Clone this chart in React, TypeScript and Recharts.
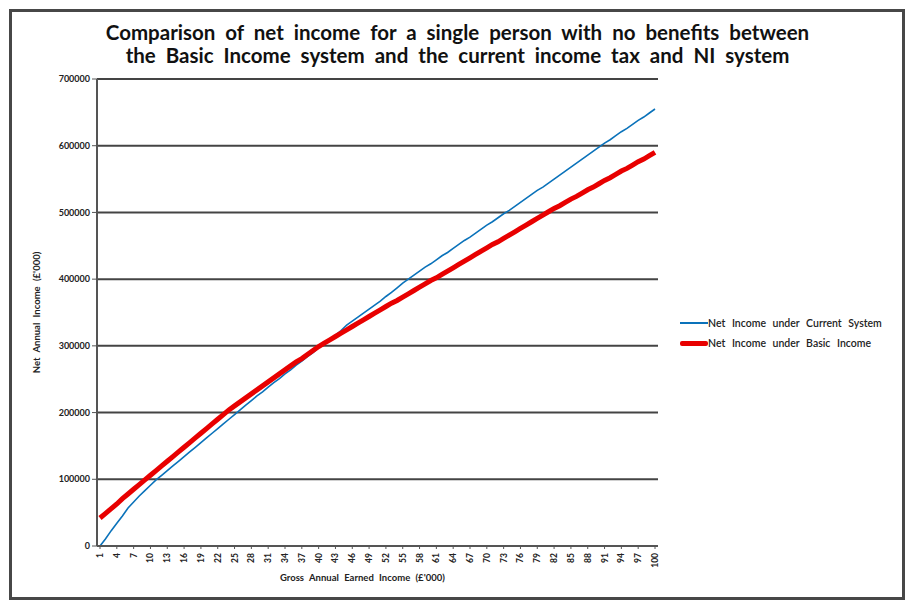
import React from "react";
import {
  LineChart,
  Line,
  XAxis,
  YAxis,
  CartesianGrid,
} from "recharts";

// gross annual earned income (£'000), 1..100
const grossIncome: string[] = [
  "1", "2", "3", "4", "5", "6", "7", "8", "9", "10",
  "11", "12", "13", "14", "15", "16", "17", "18", "19", "20",
  "21", "22", "23", "24", "25", "26", "27", "28", "29", "30",
  "31", "32", "33", "34", "35", "36", "37", "38", "39", "40",
  "41", "42", "43", "44", "45", "46", "47", "48", "49", "50",
  "51", "52", "53", "54", "55", "56", "57", "58", "59", "60",
  "61", "62", "63", "64", "65", "66", "67", "68", "69", "70",
  "71", "72", "73", "74", "75", "76", "77", "78", "79", "80",
  "81", "82", "83", "84", "85", "86", "87", "88", "89", "90",
  "91", "92", "93", "94", "95", "96", "97", "98", "99", "100",
];

const currentSystem: number[] = [
  0, 11000, 23000, 34000, 45000, 57000, 66000, 75000, 83000, 91000,
  99000, 106000, 113000, 120000, 127000, 134000, 141000, 148000, 155000, 162000,
  169000, 176000, 183000, 190000, 197000, 204000, 211000, 218000, 225000, 231000,
  238000, 245000, 251000, 258000, 264000, 271000, 277000, 284000, 290000, 297000,
  303000, 310000, 316000, 323000, 331000, 337000, 343000, 349000, 355000, 361000,
  367000, 374000, 380000, 387000, 394000, 400000, 406000, 412000, 418000, 423000,
  429000, 435000, 440000, 446000, 452000, 458000, 463000, 469000, 475000, 481000,
  486000, 492000, 498000, 503000, 509000, 515000, 521000, 527000, 533000, 538000,
  544000, 550000, 556000, 562000, 568000, 574000, 580000, 586000, 592000, 598000,
  604000, 609000, 615000, 621000, 626000, 632000, 638000, 643000, 649000, 655000,
];

const basicIncome: number[] = [
  42000, 49000, 56000, 63000, 71000, 78000, 85000, 92000, 99000, 106000,
  113000, 120000, 127000, 134000, 141000, 148000, 155000, 162000, 169000, 176000,
  183000, 190000, 197000, 204000, 210000, 216000, 222000, 228000, 234000, 240000,
  246000, 252000, 258000, 264000, 270000, 276000, 281000, 287000, 293000, 299000,
  304000, 309000, 314000, 319000, 324000, 329000, 334000, 339000, 344000, 349000,
  354000, 359000, 364000, 368000, 373000, 378000, 383000, 388000, 393000, 398000,
  402000, 407000, 412000, 417000, 422000, 427000, 432000, 437000, 442000, 447000,
  452000, 456000, 461000, 466000, 471000, 476000, 481000, 486000, 491000, 496000,
  501000, 506000, 510000, 515000, 520000, 524000, 529000, 534000, 538000, 543000,
  548000, 552000, 557000, 562000, 566000, 571000, 576000, 580000, 585000, 590000,
];

const yTicks: number[] = [0, 100000, 200000, 300000, 400000, 500000, 600000, 700000];

const data = grossIncome.map((x, i) => ({
  x,
  current: currentSystem[i],
  basic: basicIncome[i],
}));

const FONT = "Lato, 'Open Sans', sans-serif";

const XTick = ({ x, y, payload }: any) => (
  <text
    x={0}
    y={0}
    transform={`translate(${x + 3},${y + 2}) rotate(-90)`}
    textAnchor="end"
    fontSize={8.5}
    fontWeight="bold"
    fill="#222"
    fontFamily={FONT}
  >
    {payload.value}
  </text>
);

const App: React.FC = () => {
  return (
    <div
      style={{
        position: "absolute",
        left: 0,
        top: 0,
        width: 915,
        height: 608,
        background: "#fff",
        fontFamily: FONT,
      }}
    >
      <div
        style={{
          position: "absolute",
          left: 9,
          top: 9,
          width: 896,
          height: 591,
          border: "3px solid #474747",
          boxSizing: "border-box",
        }}
      />
      <div
        style={{
          position: "absolute",
          left: 0,
          top: 21,
          width: 915,
          textAlign: "center",
          fontSize: 20.5,
          fontWeight: "bold",
          lineHeight: "23px",
          wordSpacing: 5,
          color: "#111",
        }}
      >
        Comparison of net income for a single person with no benefits between
        <br />
        the Basic Income system and the current income tax and NI system
      </div>

      <LineChart
        width={915}
        height={608}
        data={data}
        margin={{ top: 79, right: 257, bottom: 32, left: 0 }}
      >
        <CartesianGrid vertical={false} stroke="#444" strokeWidth={2} />
        <XAxis
          dataKey="x"
          height={30}
          interval={2}
          padding={{ left: 3, right: 3 }}
          tick={<XTick />}
          tickSize={3}
          axisLine={{ stroke: "#555", strokeWidth: 2 }}
          tickLine={{ stroke: "#555" }}
        />
        <YAxis
          width={97}
          domain={[0, 700000]}
          ticks={yTicks}
          interval={0}
          tickSize={5}
          tick={{ fontSize: 9, fontWeight: "bold", fill: "#222", fontFamily: FONT }}
          axisLine={{ stroke: "#555", strokeWidth: 2 }}
          tickLine={{ stroke: "#555" }}
          label={{
            value: "Net Annual Income (£'000)",
            angle: -90,
            position: "insideLeft",
            offset: 37,
            style: {
              fontSize: 9.5,
              fontWeight: "bold",
              fill: "#222",
              textAnchor: "middle",
              fontFamily: FONT,
              wordSpacing: 3,
            },
          }}
        />
        <Line
          dataKey="current"
          stroke="#0A72BA"
          strokeWidth={1.6}
          dot={false}
          isAnimationActive={false}
        />
        <Line
          dataKey="basic"
          stroke="#E80000"
          strokeWidth={5}
          dot={false}
          isAnimationActive={false}
        />
      </LineChart>

      <div
        style={{
          position: "absolute",
          left: 280,
          top: 572,
          fontSize: 9.5,
          fontWeight: "bold",
          wordSpacing: 3,
          color: "#222",
          whiteSpace: "nowrap",
        }}
      >
        Gross Annual Earned Income (£'000)
      </div>

      <div
        style={{
          position: "absolute",
          left: 680,
          top: 316,
          fontSize: 10.5,
          wordSpacing: 4,
          color: "#222",
          fontWeight: 600,
        }}
      >
        <div style={{ display: "flex", alignItems: "center", height: 14, whiteSpace: "nowrap" }}>
          <span style={{ display: "inline-block", width: 28, height: 2, background: "#0A72BA" }} />
          <span>Net Income under Current System</span>
        </div>
        <div style={{ display: "flex", alignItems: "center", height: 14, marginTop: 6, whiteSpace: "nowrap" }}>
          <span style={{ display: "inline-block", width: 28, height: 5, borderRadius: 2, background: "#E80000" }} />
          <span>Net Income under Basic Income</span>
        </div>
      </div>
    </div>
  );
};

export default App;
